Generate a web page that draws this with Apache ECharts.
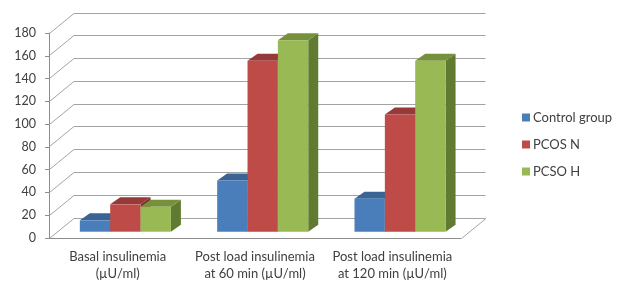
<!DOCTYPE html>
<html>
<head>
<meta charset="utf-8">
<script src="https://cdn.jsdelivr.net/npm/echarts@6/dist/echarts.min.js"></script>
<style>
html, body { margin: 0; padding: 0; background: #fff; }
#chart { width: 624px; height: 282px; }
</style>
</head>
<body>
<div id="chart"></div>
<script>
// data
var categories = ['Basal insulinemia\n(µU/ml)', 'Post load insulinemia\nat 60 min (µU/ml)', 'Post load insulinemia\nat 120 min (µU/ml)'];
var seriesNames = ['Control group', 'PCOS N', 'PCSO H'];
var controlGroup = [10, 45, 29];
var pcosN = [24, 150, 103];
var pcsoH = [22, 168, 150];
var yTicks = [0, 20, 40, 60, 80, 100, 120, 140, 160, 180];

var seriesValues = [controlGroup, pcosN, pcsoH];
// front, top, side colours (excel 2007 theme)
var faceColors = [
	['#4a7ebb', '#3a6494', '#2f5480'],
	['#be4b48', '#953a38', '#7e302e'],
	['#98b954', '#76913c', '#617a31']
];

// fake 3d: offset of the back wall and of the bar plane
var WALL = [24.5, -20.5];
var BAR_OFF = [7.7, -6.3];
var BAR_DEPTH = [10, -7];
var BAR_RATIO = 0.221;

var chart = echarts.init(document.getElementById('chart'));

function half(v) {
	return Math.round(v - 0.5) + 0.5;
}

function wallItem(params, api) {
	var cs = params.coordSys;
	var p = api.coord([0, api.value(1)]);
	var x0 = half(cs.x), y = half(p[1]);
	var children = [{
		type: 'polyline',
		shape: {points: [[x0, y], [x0 + WALL[0], half(y + WALL[1])], [half(cs.x + cs.width + WALL[0]), half(y + WALL[1])]]},
		style: {stroke: '#a3a3a3', lineWidth: 1, fill: null}
	}];
	if (api.value(1) === 0) {
		var xr = half(cs.x + cs.width);
		children.push({
			type: 'line',
			shape: {x1: xr, y1: y, x2: xr + WALL[0], y2: half(y + WALL[1])},
			style: {stroke: '#a3a3a3', lineWidth: 1}
		});
	}
	return {type: 'group', children: children};
}

function barItem(idx) {
	var cols = faceColors[idx];
	return function (params, api) {
		var cat = api.value(0);
		var base = api.coord([cat, 0]);
		var top = api.coord([cat, api.value(1)]);
		var bw = api.size([1, 0])[0] * BAR_RATIO;
		var x = base[0] - 1.5 * bw + idx * bw + BAR_OFF[0];
		var y0 = base[1] + BAR_OFF[1];
		var y1 = top[1] + BAR_OFF[1];
		var dx = BAR_DEPTH[0], dy = BAR_DEPTH[1];
		return {
			type: 'group',
			children: [{
				type: 'polygon',
				shape: {points: [[x + bw, y1], [x + bw + dx, y1 + dy], [x + bw + dx, y0 + dy], [x + bw, y0]]},
				style: {fill: cols[2]}
			}, {
				type: 'polygon',
				shape: {points: [[x, y1], [x + dx, y1 + dy], [x + bw + dx, y1 + dy], [x + bw, y1]]},
				style: {fill: cols[1]}
			}, {
				type: 'rect',
				shape: {x: x, y: y1, width: bw, height: y0 - y1},
				style: {fill: cols[0]}
			}]
		};
	};
}

var series = [{
	type: 'custom',
	name: 'wall',
	renderItem: wallItem,
	data: yTicks.map(function (v) { return [0, v]; }),
	z: 1,
	silent: true
}];
seriesNames.forEach(function (name, i) {
	series.push({
		type: 'custom',
		name: name,
		renderItem: barItem(i),
		data: seriesValues[i].map(function (v, c) { return [c, v]; }),
		itemStyle: {color: faceColors[i][0]},
		z: 2 + i
	});
});

var option = {
	animation: false,
	textStyle: {fontFamily: 'Lato'},
	grid: {left: 49, top: 33, width: 412, height: 206},
	legend: {
		data: seriesNames.map(function (n) { return {name: n, icon: 'rect'}; }),
		orient: 'vertical',
		left: 522,
		top: 110,
		padding: 0,
		itemWidth: 8,
		itemHeight: 8,
		itemGap: 12,
		textStyle: {color: '#404040', fontSize: 13, lineHeight: 15, padding: [0, 0, 0, -2]}
	},
	xAxis: {
		type: 'category',
		data: categories,
		axisLine: {lineStyle: {color: '#8c8c8c'}},
		axisTick: {length: 4, lineStyle: {color: '#8c8c8c'}},
		axisLabel: {color: '#404040', fontSize: 13, lineHeight: 17, margin: 10, interval: 0}
	},
	yAxis: {
		type: 'value',
		min: 0,
		max: 180,
		interval: 20,
		axisLine: {show: true, lineStyle: {color: '#8c8c8c'}},
		axisTick: {show: true, length: 4, lineStyle: {color: '#8c8c8c'}},
		axisLabel: {color: '#404040', fontSize: 12.5, margin: 13},
		splitLine: {show: false}
	},
	series: series
};
chart.setOption(option);
</script>
</body>
</html>
